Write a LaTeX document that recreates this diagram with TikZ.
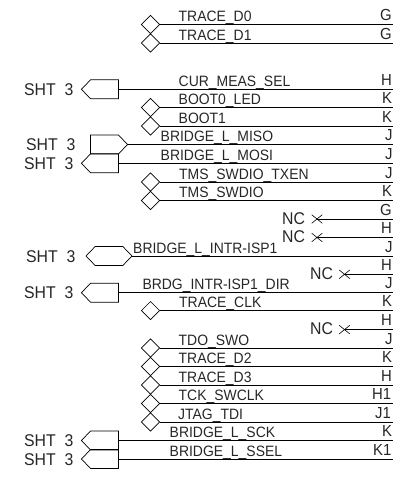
\documentclass[tikz,border=0pt]{standalone}
\usepackage{fontspec}
\setmainfont[FakeStretch=0.93]{Liberation Sans}
\usetikzlibrary{shapes.geometric,shapes.symbols,shapes.misc}

\tikzset{
    wire/.style={line width=0.9pt},
    netname/.style={anchor=base west,inner sep=0pt,font=\fontsize{15}{16}\selectfont,text=black!85},
    pinname/.style={anchor=base west,inner sep=0pt,font=\fontsize{16}{17}\selectfont,text=black!85},
    sheetname/.style={anchor=base west,inner sep=0pt,font=\fontsize{17}{18}\selectfont,text=black!85},
    bidir/.style={draw,diamond,aspect=1,inner sep=0pt,minimum size=18.5pt,line width=0.7pt},
    port/.style={draw,signal,signal pointer angle=92,inner sep=0pt,minimum width=37pt,minimum height=19pt,line width=0.7pt},
    nomark/.style={draw,cross out,inner sep=0pt,minimum width=10pt,minimum height=8pt,line width=0.6pt},
}

\begin{document}
\begin{tikzpicture}[x=1pt,y=-1pt]
    \useasboundingbox (0,0) rectangle (393,477);
    \clip (0,0) rectangle (393,477);

    % nets with a bidirectional diamond at the left end
    \foreach \y/\netx/\netlabel/\pinx/\pinlabel [count=\i] in {
        24.5/178.5/TRACE\_D0/380/G,
        43/178.5/TRACE\_D1/380/G,
        107.5/178.5/BOOT0\_LED/382/K,
        126/178.5/BOOT1/382/K,
        182/179/TMS\_SWDIO\_TXEN/385/J,
        200.5/179/TMS\_SWDIO/382/K,
        310.6/179/TRACE\_CLK/382/K,
        348/178.5/TDO\_SWO/385/J,
        366.5/178.5/TRACE\_D2/382/K,
        385/178.5/TRACE\_D3/381/H,
        403.5/178.5/TCK\_SWCLK/372/H1,
        422/178/JTAG\_TDI/375/J1
    } {
        \node[bidir] (d\i) at (150.5,\y) {};
        \coordinate (dp\i) at (393,\y);
        \draw[wire] (d\i.east) -- (dp\i);
        \node[netname] (dn\i) at (\netx,\y-3) {\netlabel};
        \node[pinname] (dt\i) at (\pinx,\y-4) {\pinlabel};
    }

    % nets going off to sheet 3
    \foreach \y/\sx/\portdir/\netx/\netlabel/\pinx/\pinlabel [count=\i] in {
        89.3/24/west/178.5/CUR\_MEAS\_SEL/381/H,
        144.5/26/east/160.5/BRIDGE\_L\_MISO/385/J,
        163.3/24/west/160.5/BRIDGE\_L\_MOSI/385/J,
        292.7/24/west/142.3/BRDG\_INTR-ISP1\_DIR/385/J,
        440.5/24/west/169.5/BRIDGE\_L\_SCK/382/K,
        459/24/west/169.5/BRIDGE\_L\_SSEL/373/K1
    } {
        \node[port,signal to=\portdir] (s\i) at (104.5,\y) {};
        \node[sheetname] (sl\i) at (\sx,\y+6) {SHT\ \ 3};
        \coordinate (sp\i) at (393,\y);
        \draw[wire] (s\i.east) -- (sp\i);
        \node[netname] (sn\i) at (\netx,\y-3) {\netlabel};
        \node[pinname] (st\i) at (\pinx,\y-4) {\pinlabel};
    }

    % port pointing both ways
    \node[port,signal to=west and east,minimum width=46pt] (hex) at (109,256) {};
    \node[sheetname] (hexl) at (26,262) {SHT\ \ 3};
    \coordinate (hexp) at (393,256);
    \draw[wire] (hex.east) -- (hexp);
    \node[netname] (hexn) at (133,253) {BRIDGE\_L\_INTR-ISP1};
    \node[pinname] (hext) at (385,252) {J};

    % not connected pins
    \foreach \y/\crossx/\textx/\pinx/\pinlabel [count=\i] in {
        219/317/282/380/G,
        237.5/317/282/381/H,
        274.3/344.5/310/381/H,
        329.6/344.5/310/381/H
    } {
        \node[nomark] (x\i) at (\crossx,\y) {};
        \coordinate (xp\i) at (393,\y);
        \draw[wire] (x\i.center) -- (xp\i);
        \node[sheetname] (xl\i) at (\textx,\y+5) {NC};
        \node[pinname] (xt\i) at (\pinx,\y-4) {\pinlabel};
    }
\end{tikzpicture}
\end{document}
